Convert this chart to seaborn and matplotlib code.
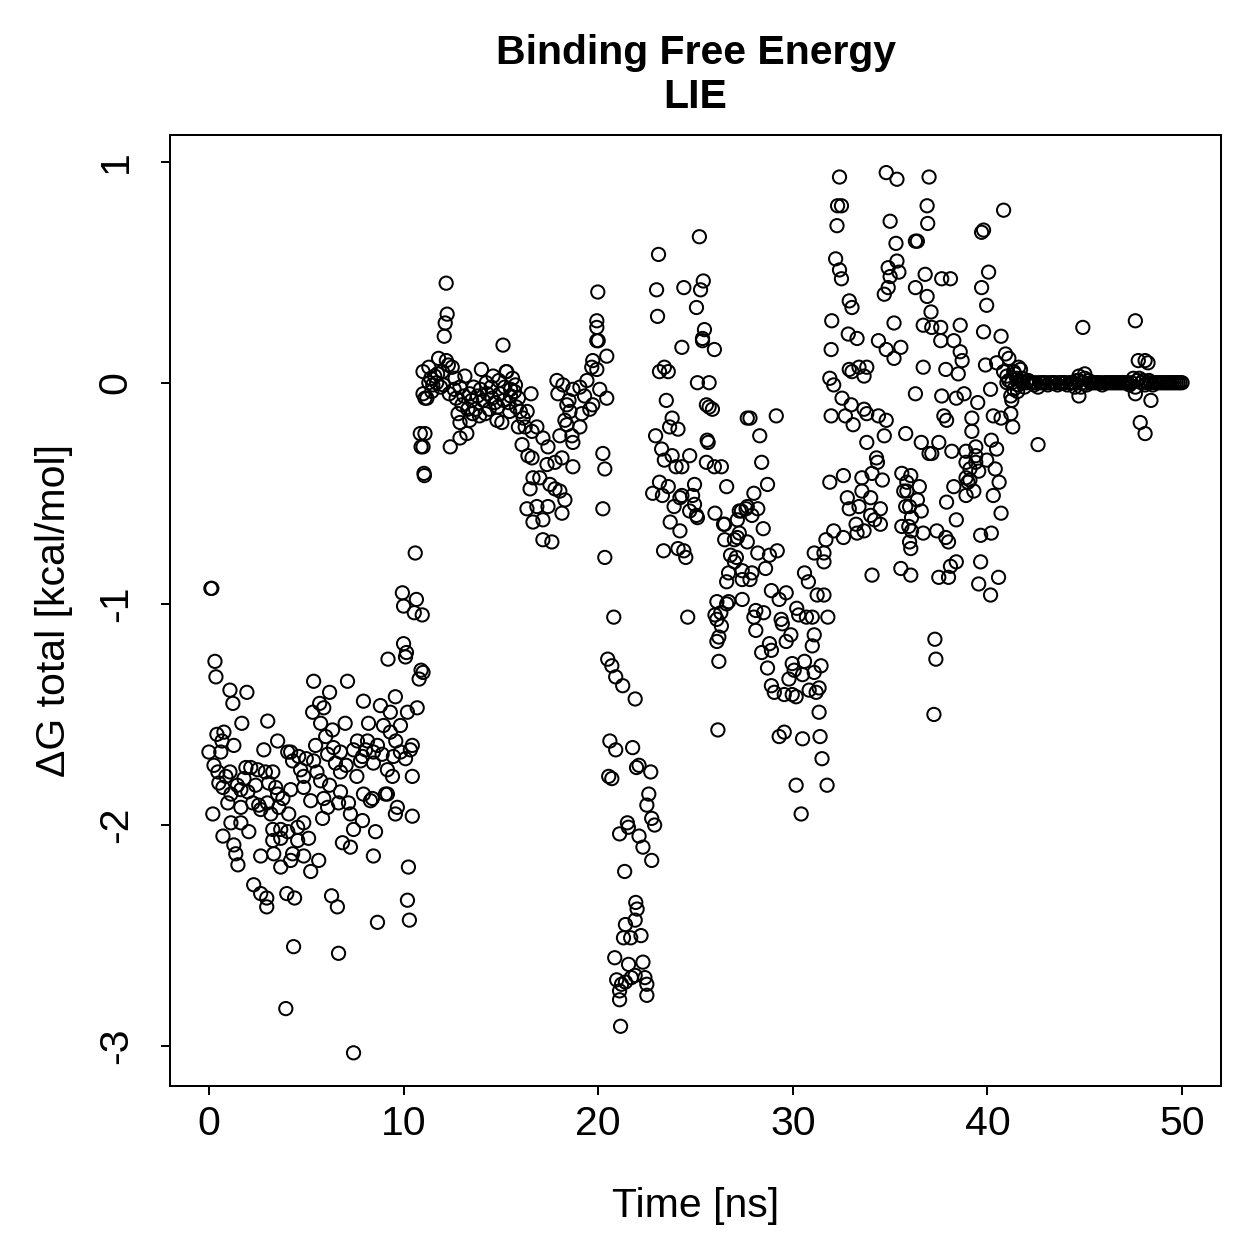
import numpy as np
import pandas as pd
import matplotlib
matplotlib.use("Agg")
import matplotlib.pyplot as plt
import seaborn as sns

# (time [ns], dG total [kcal/mol]), one list per stretch of the run
seg_0_11 = [
    (0.0, -1.67), (0.1, -0.93), (0.15, -0.93), (0.2, -1.95), (0.26, -1.73), (0.31, -1.26),
    (0.36, -1.33), (0.41, -1.59), (0.51, -1.81), (0.61, -1.67), (0.67, -1.62), (0.72, -1.83),
    (0.72, -2.05), (0.77, -1.58), (0.97, -1.90), (1.08, -1.39), (1.08, -1.76), (1.13, -1.86),
    (1.13, -1.99), (1.23, -1.45), (1.28, -1.64), (1.28, -2.09), (1.38, -2.13), (1.49, -2.18),
    (1.64, -1.84), (1.64, -1.92), (1.64, -1.99), (1.69, -1.54), (1.9, -1.74), (1.95, -1.40),
    (2.0, -1.85), (2.05, -2.03), (2.15, -1.74), (2.25, -1.90), (2.3, -2.27), (2.51, -1.75),
    (2.56, -1.91), (2.66, -1.93), (2.66, -2.14), (2.66, -2.31), (2.82, -1.66), (2.9, -1.76),
    (2.97, -2.33), (2.97, -2.37), (3.02, -1.53), (3.07, -1.81), (3.18, -1.95), (3.28, -1.76),
    (3.28, -2.02), (3.28, -2.07), (3.33, -2.13), (3.43, -1.83), (3.53, -1.62), (3.53, -1.86),
    (3.59, -1.92), (3.69, -2.02), (3.69, -2.06), (3.69, -2.19), (3.95, -2.83), (4.0, -2.31),
    (4.05, -1.67), (4.05, -2.03), (4.1, -1.95), (4.2, -1.84), (4.2, -1.67), (4.2, -2.16),
    (4.3, -1.71), (4.3, -2.13), (4.35, -2.55), (4.4, -2.33), (4.56, -2.01), (4.56, -2.07),
    (4.61, -1.69), (4.71, -1.75), (4.87, -1.83), (4.87, -1.99), (4.87, -2.14), (4.87, -1.78),
    (5.12, -2.06), (5.23, -2.21), (5.23, -1.89), (5.33, -1.49), (5.38, -1.35), (5.38, -1.71),
    (5.48, -1.64), (5.64, -2.16), (5.69, -1.45), (5.74, -1.54), (5.74, -1.80), (5.84, -1.97),
    (5.9, -1.47), (6.0, -1.60), (6.1, -1.92), (6.1, -1.68), (6.2, -1.40), (6.3, -2.32),
    (6.35, -1.57), (6.4, -1.65), (6.6, -2.37), (6.66, -1.90), (6.66, -2.58), (6.76, -1.67),
    (6.76, -1.76), (6.76, -1.85), (6.86, -2.08), (7.0, -1.54), (7.12, -1.35), (7.17, -1.90),
    (7.27, -1.95), (7.27, -2.10), (7.43, -2.02), (7.43, -1.66), (7.43, -3.03), (7.63, -1.62),
    (7.79, -1.71), (7.89, -1.98), (7.89, -1.69), (7.94, -1.86), (7.94, -1.44), (8.15, -1.62),
    (8.2, -1.54), (8.3, -1.89), (8.4, -1.88), (8.45, -1.67), (8.45, -1.72), (8.45, -2.14),
    (8.56, -2.03), (8.66, -1.64), (8.66, -2.44), (8.81, -1.46), (8.97, -1.55), (9.07, -1.86),
    (9.17, -1.75), (9.17, -1.86), (9.2, -1.25), (9.32, -1.49), (9.32, -1.58), (9.43, -1.78),
    (9.48, -1.69), (9.58, -1.42), (9.58, -1.95), (9.68, -1.92), (9.84, -1.55), (9.84, -1.67),
    (9.94, -0.95), (10.0, -1.01), (10.0, -1.18), (10.1, -1.24), (10.15, -1.22), (10.2, -1.49),
    (10.2, -2.34), (10.25, -2.19), (10.3, -2.43), (10.35, -1.66), (10.45, -1.64), (10.45, -1.78),
    (10.45, -1.96), (10.55, -1.04), (10.66, -0.98), (10.7, -1.47), (10.8, -1.34), (10.9, -1.30),
    (10.96, -1.05), (11.0, -1.31),
    (0.46, -1.76), (0.87, -1.78), (1.46, -1.82), (1.8, -1.79), (2.4, -1.82), (3.8, -1.88),
    (5.0, -1.70), (5.55, -1.76), (6.5, -1.72), (7.05, -1.73), (7.6, -1.78), (8.05, -1.66),
    (8.9, -1.68), (9.6, -1.62), (10.1, -1.70), (6.2, -1.82), (5.9, -1.88), (3.0, -1.90),
]

seg_11_20 = [
    (10.6, -0.77), (10.86, -0.23), (10.9, -0.29), (11.0, -0.05), (11.0, 0.05), (11.0, -0.29),
    (11.05, -0.41), (11.07, -0.42), (11.1, -0.07), (11.1, -0.23), (11.2, -0.07), (11.3, 0.07),
    (11.3, 0.00), (11.4, 0.02), (11.5, -0.01), (11.6, 0.03), (11.7, 0.00), (11.8, 0.11),
    (11.9, -0.02), (12.0, 0.05), (12.09, 0.21), (12.14, 0.27), (12.19, 0.45), (12.2, 0.10),
    (12.24, 0.31), (12.3, 0.08), (12.4, -0.29), (12.5, 0.07), (12.6, -0.03), (12.7, -0.07),
    (12.8, -0.14), (12.9, -0.02), (12.9, -0.18), (12.9, -0.25), (13.0, -0.10), (13.15, 0.03),
    (13.25, -0.23), (13.3, -0.12), (13.4, -0.05), (13.4, -0.17), (13.5, -0.08), (13.6, -0.02),
    (13.7, -0.12), (13.8, -0.06), (13.9, -0.15), (14.0, 0.06), (14.1, -0.08), (14.2, -0.14),
    (14.3, -0.05), (14.4, -0.12), (14.5, -0.02), (14.6, 0.03), (14.7, -0.09), (14.8, -0.17),
    (14.9, 0.01), (14.95, -0.05), (15.05, -0.18), (15.11, 0.17), (15.2, -0.02), (15.27, 0.05),
    (15.3, 0.05), (15.4, -0.09), (15.5, -0.06), (15.5, -0.03), (15.6, 0.02), (15.7, -0.04),
    (15.8, -0.11), (15.9, -0.07), (15.9, -0.20), (16.0, -0.13), (16.09, -0.28), (16.25, -0.20),
    (16.34, -0.57), (16.35, -0.13), (16.39, -0.33), (16.5, -0.48), (16.55, -0.05), (16.6, -0.22),
    (16.6, -0.34), (16.65, -0.43), (16.65, -0.63), (16.85, -0.20), (16.85, -0.56), (17.0, -0.43),
    (17.16, -0.25), (17.16, -0.62), (17.16, -0.71), (17.37, -0.37), (17.42, -0.29), (17.42, -0.56),
    (17.52, -0.46), (17.62, -0.72), (17.78, -0.36), (17.78, -0.48), (17.88, 0.01), (17.93, -0.05),
    (18.03, -0.49), (18.03, -0.24), (18.14, -0.34), (18.14, -0.59), (18.19, -0.01), (18.29, -0.53),
    (18.29, -0.17), (18.39, -0.10), (18.39, -0.19), (18.65, -0.24), (18.7, -0.03), (18.7, -0.27),
    (18.7, -0.38), (19.06, -0.02), (19.06, -0.20), (19.16, -0.14), (19.42, 0.01), (19.57, -0.12),
    (19.67, 0.07), (19.72, 0.10), (19.72, -0.10), (19.93, 0.06), (19.93, 0.19), (19.93, 0.25),
    (19.93, 0.28), (19.98, 0.41), (20.0, 0.19), (20.08, -0.03), (20.24, -0.32), (20.24, -0.57),
    (20.34, -0.39), (20.34, -0.79), (20.44, 0.12), (20.44, -0.07),
    (11.45, -0.04), (11.75, 0.04), (12.05, -0.01), (12.35, -0.05), (12.65, 0.02), (13.1, -0.06),
    (13.55, -0.14), (13.95, -0.03), (14.25, 0.00), (14.55, -0.07), (14.85, -0.11), (15.15, -0.08),
    (15.45, -0.13), (15.75, -0.01), (16.15, -0.16), (18.5, -0.08), (18.55, -0.13), (19.3, -0.06),
]

seg_20_23 = [
    (20.49, -1.25), (20.54, -1.78), (20.6, -1.62), (20.7, -1.28), (20.7, -1.79), (20.8, -1.06),
    (20.85, -2.60), (20.9, -1.33), (20.9, -1.66), (20.95, -2.70), (21.1, -2.04), (21.1, -2.75),
    (21.1, -2.79), (21.15, -2.91), (21.2, -2.72), (21.26, -1.37), (21.3, -2.51), (21.36, -2.21),
    (21.4, -2.45), (21.4, -2.71), (21.5, -1.99), (21.55, -2.01), (21.56, -2.63), (21.67, -2.51),
    (21.7, -2.69), (21.77, -1.65), (21.9, -1.43), (21.9, -2.43), (21.9, -2.68), (21.93, -2.35),
    (21.97, -1.74), (22.0, -2.38), (22.1, -1.73), (22.1, -2.05), (22.2, -2.50), (22.3, -2.10),
    (22.3, -2.62), (22.4, -2.69), (22.5, -1.91), (22.5, -2.72), (22.5, -2.77), (22.6, -1.86),
    (22.7, -1.76), (22.75, -1.97), (22.75, -2.16), (22.9, -2.00),
]

seg_23_28 = [
    (22.8, -0.50), (22.95, -0.24), (23.0, 0.42), (23.05, 0.30), (23.1, 0.58), (23.15, 0.05),
    (23.15, -0.45), (23.26, -0.30), (23.3, -0.51), (23.36, -0.76), (23.4, 0.07), (23.4, -0.35),
    (23.5, -0.08), (23.6, 0.05), (23.6, -0.47), (23.67, -0.20), (23.7, -0.63), (23.8, -0.16),
    (23.8, -0.33), (23.9, -0.56), (24.0, -0.38), (24.1, -0.21), (24.1, -0.75), (24.2, -0.52),
    (24.2, -0.67), (24.3, 0.16), (24.3, -0.38), (24.3, -0.51), (24.4, 0.43), (24.4, -0.76),
    (24.5, -0.79), (24.6, -1.06), (24.7, -0.33), (24.7, -0.58), (24.85, -0.51), (24.95, -0.46),
    (24.95, -0.55), (25.05, 0.34), (25.05, -0.60), (25.1, 0.00), (25.1, -0.61), (25.2, 0.66),
    (25.26, 0.42), (25.36, 0.20), (25.36, 0.19), (25.4, 0.46), (25.46, 0.24), (25.56, -0.10),
    (25.56, -0.36), (25.6, -0.26), (25.65, -0.27), (25.7, 0.00), (25.7, -0.11), (25.87, -0.12),
    (25.97, 0.15), (25.97, -0.38), (26.0, -0.59), (26.0, -1.05), (26.1, -0.99), (26.1, -1.07),
    (26.1, -1.17), (26.15, -1.57), (26.2, -1.15), (26.2, -1.26), (26.3, -1.04), (26.33, -0.38),
    (26.33, -1.10), (26.44, -0.64), (26.5, -0.64), (26.5, -0.71), (26.6, -0.47), (26.6, -0.90),
    (26.6, -1.00), (26.7, -0.86), (26.7, -0.99), (26.8, -0.78), (27.0, -0.71), (27.0, -0.81),
    (27.1, -0.79), (27.15, -0.62), (27.15, -0.70), (27.25, -0.58), (27.25, -0.68), (27.36, -0.58),
    (27.4, -0.85), (27.4, -0.89), (27.4, -0.98), (27.6, -0.57), (27.66, -0.16), (27.66, -0.56),
    (27.66, -0.72),
]

seg_28_32 = [
    (27.8, -0.16), (27.8, -0.89), (27.9, -0.60), (27.9, -0.86), (28.0, -0.50), (28.0, -1.06),
    (28.1, -1.03), (28.1, -1.12), (28.2, -0.57), (28.2, -0.77), (28.3, -0.24), (28.4, -0.36),
    (28.4, -1.22), (28.48, -0.66), (28.5, -1.04), (28.6, -0.84), (28.7, -0.46), (28.7, -1.29),
    (28.8, -0.78), (28.8, -1.18), (28.9, -0.94), (28.9, -1.21), (28.9, -1.37), (29.05, -1.40),
    (29.15, -0.15), (29.2, -0.76), (29.3, -0.98), (29.3, -1.60), (29.4, -1.07), (29.46, -1.09),
    (29.56, -1.41), (29.56, -1.58), (29.66, -0.95), (29.66, -1.17), (29.8, -1.34), (29.9, -1.14),
    (29.97, -1.27), (29.97, -1.41), (30.07, -1.30), (30.17, -1.42), (30.17, -1.82), (30.2, -1.02),
    (30.3, -1.05), (30.43, -1.95), (30.5, -1.32), (30.5, -1.61), (30.6, -0.86), (30.6, -1.26),
    (30.7, -1.06), (30.8, -0.90), (30.84, -1.39), (31.0, -1.06), (31.0, -1.19), (31.1, -1.14),
    (31.1, -1.31), (31.2, -1.40), (31.25, -0.96), (31.35, -1.38), (31.35, -1.49), (31.4, -1.60),
    (31.45, -1.28), (31.5, -1.70), (31.6, -0.96), (31.76, -1.82), (31.8, -1.06),
]

seg_32_41 = [
    (31.1, -0.77), (31.6, -0.77), (31.6, -0.81), (31.7, -0.71), (31.9, 0.02), (31.9, -0.45),
    (31.97, 0.15), (31.97, -0.15), (32.0, 0.28), (32.1, -0.01), (32.1, -0.67), (32.2, 0.56),
    (32.27, 0.71), (32.3, 0.80), (32.4, 0.93), (32.4, 0.51), (32.5, 0.80), (32.5, 0.47),
    (32.53, -0.07), (32.6, -0.42), (32.6, -0.70), (32.7, -0.15), (32.8, -0.52), (32.85, 0.22),
    (32.9, 0.37), (32.9, 0.06), (32.9, -0.57), (33.0, -0.10), (33.04, 0.34), (33.04, 0.05),
    (33.1, -0.19), (33.25, -0.64), (33.3, 0.20), (33.3, -0.68), (33.4, 0.07), (33.4, -0.56),
    (33.55, -0.43), (33.55, -0.49), (33.66, 0.03), (33.66, -0.12), (33.66, -0.67), (33.8, 0.07),
    (33.8, -0.14), (33.8, -0.27), (34.0, -0.52), (34.0, -0.60), (34.07, -0.41), (34.07, -0.87),
    (34.2, -0.62), (34.3, -0.34), (34.35, -0.36), (34.4, 0.19), (34.4, -0.15), (34.5, -0.57),
    (34.5, -0.64), (34.6, -0.44), (34.7, 0.40), (34.7, -0.24), (34.8, 0.95), (34.8, 0.15),
    (34.8, -0.17), (34.9, 0.52), (34.9, 0.43), (35.0, 0.73), (35.0, 0.48), (35.2, 0.27),
    (35.2, 0.11), (35.3, 0.63), (35.35, 0.92), (35.35, 0.55), (35.45, 0.50), (35.55, 0.16),
    (35.55, -0.84), (35.6, -0.41), (35.6, -0.65), (35.7, -0.49), (35.8, -0.23), (35.8, -0.56),
    (35.86, -0.45), (35.86, -0.49), (35.96, -0.65), (36.0, -0.56), (36.0, -0.72), (36.06, -0.42),
    (36.06, -0.75), (36.06, -0.87), (36.1, -0.61), (36.1, -0.67), (36.3, 0.64), (36.3, 0.43),
    (36.3, -0.05), (36.4, 0.64), (36.4, -0.53), (36.5, -0.47), (36.6, -0.27), (36.6, -0.58),
    (36.7, 0.26), (36.7, 0.07), (36.7, -0.68), (36.8, 0.49), (36.9, 0.80), (36.9, 0.39),
    (36.93, 0.72), (37.0, 0.93), (37.0, -0.32), (37.1, 0.32), (37.14, 0.25), (37.14, -0.32),
    (37.25, -1.50), (37.3, -1.16), (37.35, -1.25), (37.4, -0.67), (37.5, -0.27), (37.5, -0.88),
    (37.6, 0.25), (37.6, 0.19), (37.65, 0.47), (37.65, -0.06), (37.76, -0.15), (37.86, 0.06),
    (37.86, -0.70), (37.9, -0.17), (37.9, -0.54), (38.0, -0.72), (38.0, -0.88), (38.1, 0.47),
    (38.1, -0.83), (38.17, -0.31), (38.27, 0.19), (38.27, -0.47), (38.4, -0.07), (38.4, -0.62),
    (38.4, -0.81), (38.5, 0.04), (38.6, 0.26), (38.6, 0.14), (38.7, 0.10), (38.8, -0.05),
    (38.9, -0.31), (38.9, -0.36), (38.9, -0.43), (38.9, -0.51), (39.0, -0.45), (39.1, -0.39),
    (39.1, -0.44), (39.2, -0.16), (39.2, -0.22), (39.3, -0.49), (39.4, -0.29), (39.4, -0.33),
    (39.4, -0.36), (39.5, -0.09), (39.55, -0.40), (39.55, -0.91), (39.65, -0.69), (39.65, -0.81),
    (39.7, 0.68), (39.7, 0.43), (39.8, 0.69), (39.8, 0.23), (39.9, 0.08), (39.96, 0.35),
    (39.96, -0.35), (40.06, 0.50), (40.16, -0.03), (40.16, -0.96), (40.2, -0.26), (40.2, -0.68),
    (40.3, -0.15), (40.3, -0.51), (40.4, -0.39), (40.47, 0.09), (40.47, -0.30), (40.57, -0.88),
    (40.6, -0.45), (40.7, 0.21), (40.7, -0.16), (40.7, -0.59), (40.83, 0.78), (40.83, 0.05),
    (40.93, 0.13), (41.0, 0.03), (41.0, 0.00), (41.1, 0.11), (41.1, 0.01), (41.2, -0.06),
    (41.2, -0.14), (41.25, 0.00), (41.25, -0.08), (41.3, -0.20), (41.35, 0.05), (41.35, -0.03),
]

seg_42_50_extra = [
    (41.6, 0.07), (41.7, 0.06), (42.6, -0.28), (44.7, 0.03), (44.7, -0.06), (44.9, 0.25),
    (45.0, 0.04), (47.6, 0.28), (47.6, -0.05), (47.75, 0.10), (47.85, -0.18), (48.1, 0.10),
    (48.1, -0.23), (48.25, 0.09), (48.4, -0.08), (41.4, 0.04), (41.55, -0.04), (41.8, 0.02),
]

# the flat stretch at the end of the run
tail_t = [41.5, 41.6, 41.7, 41.8, 41.9, 42.0, 42.1, 42.2, 42.3, 42.4, 42.5, 42.6, 42.7, 42.8,
          42.9, 43.0, 43.1, 43.2, 43.3, 43.4, 43.5, 43.6, 43.7, 43.8, 43.9, 44.0, 44.1, 44.2,
          44.3, 44.4, 44.5, 44.6, 44.7, 44.8, 44.9, 45.0, 45.1, 45.2, 45.3, 45.4, 45.5, 45.6,
          45.7, 45.8, 45.9, 46.0, 46.1, 46.2, 46.3, 46.4, 46.5, 46.6, 46.7, 46.8, 46.9, 47.0,
          47.1, 47.2, 47.3, 47.4, 47.5, 47.6, 47.7, 47.8, 47.9, 48.0, 48.1, 48.2, 48.3, 48.4,
          48.5, 48.6, 48.7, 48.8, 48.9, 49.0, 49.1, 49.2, 49.3, 49.4, 49.5, 49.6, 49.7, 49.8,
          49.9, 50.0]
tail_g = [0.02, -0.01, 0.01, 0.00, -0.02, 0.00, 0.01, 0.00, 0.00, -0.01, 0.00, -0.02, 0.00, 0.00,
          0.00, 0.00, -0.01, 0.00, 0.00, 0.00, 0.00, -0.01, 0.00, 0.00, 0.00, 0.00, -0.01, 0.00,
          0.00, 0.00, -0.02, 0.01, 0.01, -0.02, 0.00, 0.02, -0.01, 0.01, 0.00, 0.00, 0.00, 0.00,
          0.00, 0.00, -0.01, 0.00, 0.00, 0.00, 0.00, 0.00, 0.00, 0.00, 0.00, 0.00, 0.00, 0.00,
          0.00, 0.00, -0.01, 0.00, 0.02, -0.02, 0.01, 0.02, 0.00, 0.01, -0.01, 0.00, 0.01, 0.00,
          -0.01, 0.00, 0.00, 0.00, 0.00, 0.00, 0.00, 0.00, 0.00, 0.00, 0.00, 0.00, 0.00, 0.00,
          0.00, 0.00]

pts = seg_0_11 + seg_11_20 + seg_20_23 + seg_23_28 + seg_28_32 + seg_32_41 + seg_42_50_extra
df = pd.DataFrame(pts, columns=["time", "dG"])
df = pd.concat([df, pd.DataFrame({"time": tail_t, "dG": tail_g})], ignore_index=True)

sns.set_style("white")
plt.rcParams['font.family'] = ['Liberation Sans', 'DejaVu Sans']
plt.rcParams['text.color'] = 'black'
plt.rcParams['axes.labelcolor'] = 'black'
fs = 16.4

fig = plt.figure(figsize=(1259 / 180, 1259 / 180), dpi=180)
ax = fig.add_axes([170 / 1259, 1 - 1086 / 1259, 1051 / 1259, 951 / 1259])

sns.scatterplot(data=df, x="time", y="dG", ax=ax, marker="o", s=28,
                facecolor="none", edgecolor="black", linewidth=0.8, legend=False)

ax.set_xlim(-2, 52)
ax.set_ylim(-3.18, 1.12)
ax.set_xticks([0, 10, 20, 30, 40, 50])
ax.set_yticks([-3, -2, -1, 0, 1])
ax.set_yticklabels(["-3", "-2", "-1", "0", "1"], rotation=90, va="center")

for sp in ax.spines.values():
    sp.set_visible(True)
    sp.set_color("black")
    sp.set_linewidth(0.8)

ax.tick_params(axis="both", direction="out", length=3.6, width=0.8, color="black",
               labelsize=fs, labelcolor="black", bottom=True, left=True)
ax.tick_params(axis="x", pad=4)
ax.tick_params(axis="y", pad=10.5)

ax.set_xlabel("Time [ns]", fontsize=fs, color="black")
ax.set_ylabel("\u0394G total [kcal/mol]", fontsize=fs, color="black")
ax.xaxis.set_label_coords(0.5, -0.106)
ax.yaxis.set_label_coords(-0.092, 0.5)

ax.set_title("Binding Free Energy\nLIE", fontsize=fs, fontweight="bold", pad=10.8, color="black")

fig.savefig("out.png", dpi=180)
